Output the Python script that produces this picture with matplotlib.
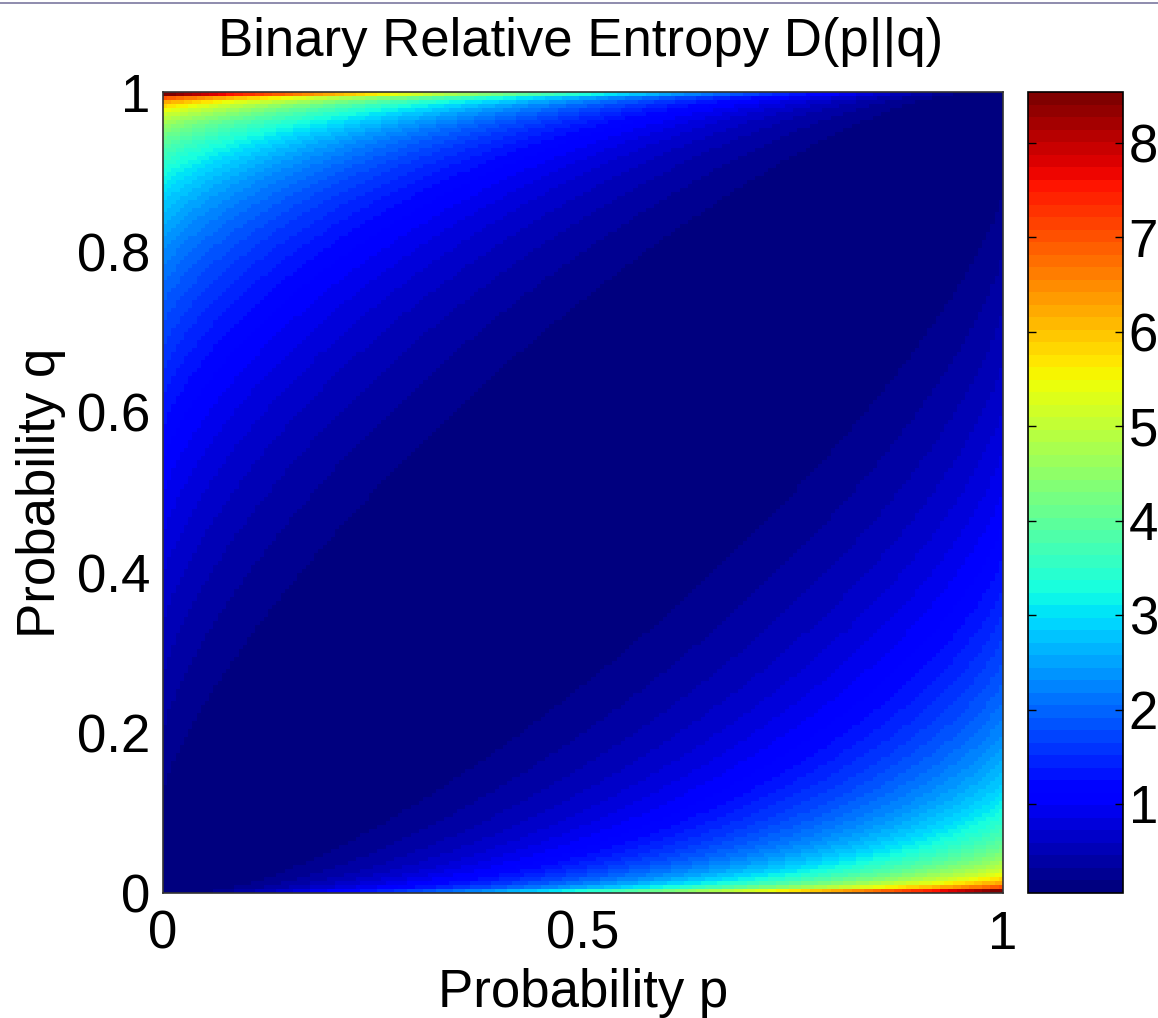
import numpy as np
import matplotlib
matplotlib.use("Agg")
import matplotlib.pyplot as plt
from matplotlib.lines import Line2D

# Grid of probabilities (sampled in steps of 0.005)
p_values = np.arange(0.0025, 1.0, 0.005)
q_values = np.arange(0.0025, 1.0, 0.005)
cbar_ticks = [1, 2, 3, 4, 5, 6, 7, 8]
x_ticks = [0, 0.5, 1]
x_ticklabels = ["0", "0.5", "1"]
y_ticks = [0, 0.2, 0.4, 0.6, 0.8, 1]
y_ticklabels = ["0", "0.2", "0.4", "0.6", "0.8", "1"]
clim = (0.057, 8.54)

P, Q = np.meshgrid(p_values, q_values)
D = P * np.log2(P / Q) + (1 - P) * np.log2((1 - P) / (1 - Q))

plt.rcParams['font.family'] = ['Liberation Sans', 'DejaVu Sans']
FS = 38

W, H = 1158, 1018
fig = plt.figure(figsize=(W / 100, H / 100), dpi=100)
fig.patch.set_facecolor('white')

ax = fig.add_axes([163 / W, 1 - 893 / H, 840 / W, 801 / H])
cmap = plt.get_cmap('jet', 64)
im = ax.imshow(D, origin='lower', extent=[0, 1, 0, 1], aspect='auto',
               cmap=cmap, vmin=clim[0], vmax=clim[1], interpolation='nearest')
ax.set_xlim(0, 1)
ax.set_ylim(0, 1)
ax.set_xticks(x_ticks)
ax.set_xticklabels(x_ticklabels)
ax.set_yticks(y_ticks)
ax.set_yticklabels(y_ticklabels)
ax.tick_params(axis='x', length=0, labelsize=FS, pad=12)
ax.tick_params(axis='y', length=0, labelsize=FS, pad=9)
ax.set_xlabel("Probability p", fontsize=FS, labelpad=6)
ax.set_ylabel("Probability q", fontsize=FS, labelpad=8)
for s in ax.spines.values():
    s.set_linewidth(1.2)
    s.set_color('#333333')

cax = fig.add_axes([1028 / W, 1 - 893 / H, 95 / W, 801 / H])
cb = fig.colorbar(im, cax=cax, ticks=cbar_ticks)
cb.outline.set_linewidth(1.2)
cax.tick_params(direction='in', left=True, right=True, length=6, width=1,
                labelsize=FS, pad=4)

fig.text(581 / W, 1 - 42 / H, "Binary Relative Entropy D(p||q)",
         ha='center', va='center', fontsize=FS)

fig.add_artist(Line2D([0, 1], [1 - 3 / H, 1 - 3 / H], transform=fig.transFigure,
                      color='#7b78a0', linewidth=1.2))

fig.savefig("out.png", dpi=100)
